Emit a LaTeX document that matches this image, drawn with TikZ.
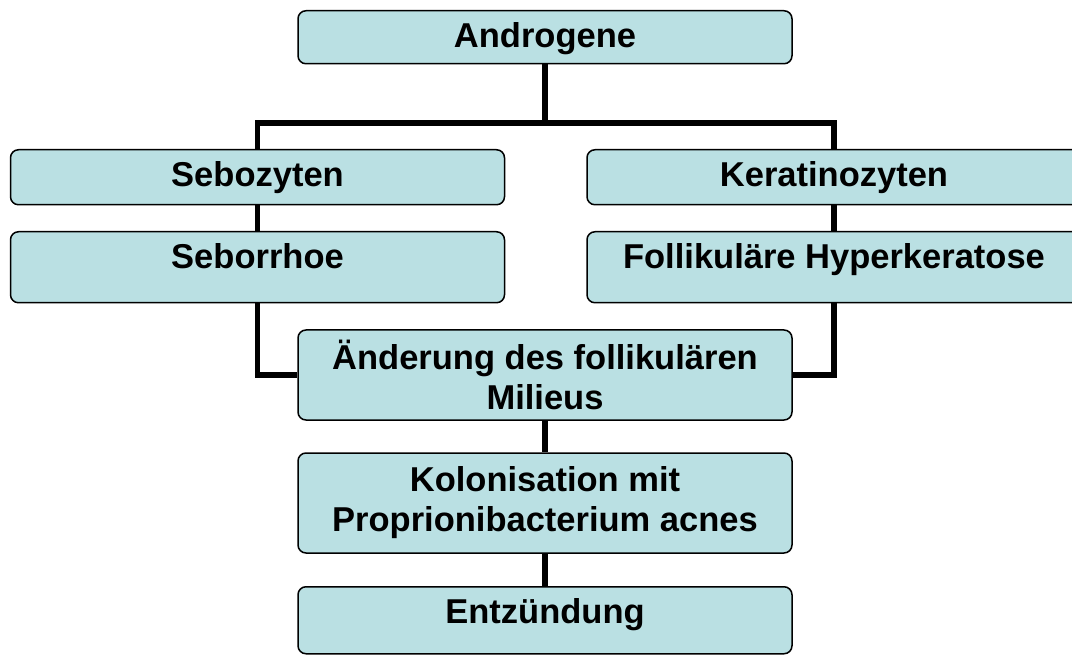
\documentclass[tikz,border=0pt]{standalone}
\usepackage{fontspec}
\setmainfont{Liberation Sans}
\definecolor{boxblue}{RGB}{186,224,227}
\tikzset{
  box/.style={draw,line width=1.5pt,rounded corners=8pt,fill=boxblue,minimum width=494pt,inner xsep=6pt,inner ysep=0pt,font=\bfseries\fontsize{34.5}{40}\selectfont},
  oneline/.style={anchor=north,text height=37pt,text depth=#1},
  link/.style={line width=5.5pt}
}
\begin{document}
\begin{tikzpicture}[x=1pt,y=-1pt]
\useasboundingbox (0,0) rectangle (1072,655);
\clip (0,0) rectangle (1072,655);
\draw (545,10) node[box,oneline=16pt](andro) {Androgene};
\draw (257.5,149) node[box,oneline=18pt](sebo) {Sebozyten};
\draw (834,149) node[box,oneline=18pt](kera) {Keratinozyten};
\draw (257.5,231) node[box,oneline=34pt](seborr) {Seborrhoe};
\draw (834,231) node[box,oneline=34pt](hyper) {Follikuläre Hyperkeratose};
\draw (545,375) node[box,align=center,minimum height=90pt](milieu) {Änderung des follikulären\\Milieus};
\draw (545,503) node[box,align=center,minimum height=100pt](kolon) {Kolonisation mit\\Proprionibacterium acnes};
\draw (545,586) node[box,oneline=30pt](entz) {Entzündung};
\coordinate (fork) at (545,123);
\draw[link] (andro) -- (fork);
\draw[link] (sebo.north) |- (fork) -| (kera.north);
\draw[link] (sebo) -- (seborr);
\draw[link] (kera) -- (hyper);
\draw[link] (seborr.south) |- (milieu.west);
\draw[link] (hyper.south) |- (milieu.east);
\draw[link] (milieu) -- (kolon);
\draw[link] (kolon) -- (entz);
\end{tikzpicture}
\end{document}
